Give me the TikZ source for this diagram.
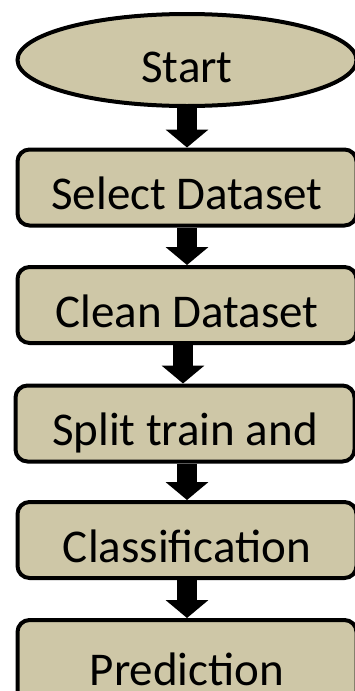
\documentclass[tikz,border=0pt]{standalone}
\usepackage{fontspec}
\setmainfont{Carlito}
\usepackage{tikz}
\usetikzlibrary{shapes.geometric}
\usetikzlibrary{arrows.meta}
\definecolor{boxtan}{RGB}{206,199,167}
\tikzstyle{stepbox}=[draw, fill=boxtan, line width=4pt, rounded corners=12pt, minimum width=339pt, minimum height=76pt, inner sep=0pt, text height=54pt, text depth=10pt, font=\fontsize{47}{56}\selectfont]
\tikzstyle{startoval}=[stepbox, ellipse, rounded corners=0pt, minimum height=92pt]
\tikzstyle{flowarrow}=[line width=20pt, -{Triangle[width=42pt, length=18pt]}]

\begin{document}
\begin{tikzpicture}[x=1pt, y=-1pt]
    \useasboundingbox (0, 0) rectangle (355, 691);
    \clip (0, 0) rectangle (355, 691);
    \fill [white] (0, 0) rectangle (355, 691);
    % flow steps, top to bottom
    \node [startoval] (start) at (187, 60) {Start};
    \node [stepbox] (select) at (187, 187.5) {Select Dataset};
    \node [stepbox] (clean) at (187, 305) {Clean Dataset};
    \node [stepbox] (split) at (185, 423.5) {Split train and};
    \node [stepbox] (classify) at (187, 540) {Classification};
    \node [stepbox, minimum height=86pt, text height=46pt, text depth=2pt] (predict) at (187, 663) {Prediction};
    % arrows between steps
    \draw [flowarrow] (start.south) -- (select.north);
    \draw [flowarrow] (select.south) -- (clean.north);
    \draw [flowarrow] ([xshift=-4pt]clean.south) -- ([xshift=-2pt]split.north);
    \draw [flowarrow] (split.south -| classify.north) -- (classify.north);
    \draw [flowarrow] (classify.south) -- (predict.north);
\end{tikzpicture}
\end{document}
